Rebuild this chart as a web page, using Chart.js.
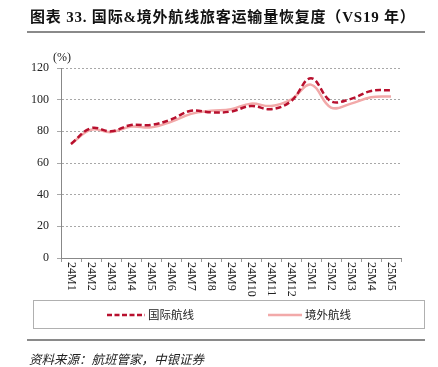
<!DOCTYPE html>
<html>
<head>
<meta charset="utf-8">
<script src="https://cdn.jsdelivr.net/npm/chart.js@4"></script>
<style>
  body { margin: 0; width: 438px; height: 367px; background: #fff; position: relative; overflow: hidden; }
  #chartBox { position: absolute; left: 0; top: 0; width: 438px; height: 367px; }
  .abs { position: absolute; white-space: nowrap; }
  #title { left: 30px; top: 8px; font: bold 15px "Liberation Serif", "Noto Sans CJK SC", serif; color: #111; line-height: 18px; letter-spacing: 0.8px; }
  .rule { position: absolute; left: 27px; width: 398px; height: 2px; background: #8a8a8a; }
  #unit { left: 53px; top: 50px; font: 12px "Liberation Serif", serif; color: #222; }
  #legend { position: absolute; left: 33px; top: 300px; width: 392px; height: 29px; box-sizing: border-box; border: 1px solid #b0b0b0; }
  .legText { position: absolute; top: 6px; font: 11.5px "Noto Sans CJK SC", sans-serif; color: #222; line-height: 15px; }
  #source { left: 29px; top: 349px; font: italic 12.5px "Noto Sans CJK SC", sans-serif; color: #222; }
</style>
</head>
<body>
<div id="chartBox"><canvas id="myChart" width="438" height="367"></canvas></div>
<div id="title" class="abs">图表 33. 国际&amp;境外航线旅客运输量恢复度（VS19 年）</div>
<div class="rule" style="top:31px"></div>
<div id="unit" class="abs">(%)</div>
<div id="legend">
  <svg style="position:absolute;left:73px;top:12px" width="38" height="4"><line x1="0" y1="2" x2="38" y2="2" stroke="#b8102e" stroke-width="2.5" stroke-dasharray="5,2.5"/></svg>
  <div class="legText" style="left:114px">国际航线</div>
  <svg style="position:absolute;left:234px;top:12px" width="34" height="4"><line x1="0" y1="2" x2="34" y2="2" stroke="#f2a9a9" stroke-width="2.5"/></svg>
  <div class="legText" style="left:271px">境外航线</div>
</div>
<div class="rule" style="top:339px"></div>
<div id="source" class="abs">资料来源：航班管家，中银证券</div>

<script>
const months = ['24M1', '24M2', '24M3', '24M4', '24M5', '24M6', '24M7', '24M8', '24M9', '24M10', '24M11', '24M12',
  '25M1', '25M2', '25M3', '25M4', '25M5'];
const intlRoutes = [72, 82, 80, 84, 84, 87.5, 93, 92, 92.5, 96, 94, 99, 113.5, 99, 100.5, 105.5, 106];
const overseasRoutes = [72, 81, 79.5, 83, 82.5, 86, 91, 93, 94, 97.5, 96, 100, 109.5, 95, 97.5, 101.5, 102];
const yTicks = [0, 20, 40, 60, 80, 100, 120];

// x labels read top-to-bottom, so draw them ourselves at the scale's positions
const xLabelPlugin = {
  id: 'xLabels',
  afterDraw(chart) {
    const xs = chart.scales.x;
    const ctx = chart.ctx;
    ctx.save();
    ctx.font = '12px "Liberation Serif", serif';
    ctx.fillStyle = '#222';
    ctx.textAlign = 'left';
    ctx.textBaseline = 'middle';
    months.forEach((m, i) => {
      ctx.save();
      ctx.translate(xs.getPixelForValue(i), xs.top + 4);
      ctx.rotate(Math.PI / 2);
      ctx.fillText(m, 0, 0);
      ctx.restore();
    });
    ctx.restore();
  }
};

const ctx = document.getElementById('myChart').getContext('2d');
new Chart(ctx, {
  type: 'line',
  data: {
    labels: months,
    datasets: [{
      label: '国际航线',
      data: intlRoutes,
      borderColor: '#b8102e',
      borderWidth: 2.5,
      borderDash: [6, 3],
      pointRadius: 0,
      tension: 0.4,
      fill: false
    }, {
      label: '境外航线',
      data: overseasRoutes,
      borderColor: '#f2a9a9',
      borderWidth: 2.5,
      pointRadius: 0,
      tension: 0.4,
      fill: false
    }]
  },
  options: {
    responsive: false,
    animation: false,
    layout: { padding: { left: 0, top: 68, right: 37, bottom: 0 } },
    plugins: {
      legend: { display: false },
      tooltip: { enabled: false }
    },
    scales: {
      x: {
        offset: true,
        grid: { display: true, drawOnChartArea: false, offset: true, tickLength: 4, color: '#999' },
        border: { color: '#888', width: 1 },
        ticks: { display: false },
        afterFit: s => { s.height = 109; }
      },
      y: {
        min: 0,
        max: 120,
        afterBuildTicks: s => { s.ticks = yTicks.map(v => ({ value: v })); },
        grid: { color: '#a8a8a8', tickLength: 4, lineWidth: 1 },
        border: { color: '#888', width: 1, dash: [2, 2] },
        ticks: {
          padding: 8,
          color: '#222',
          font: { family: '"Liberation Serif", serif', size: 12 }
        },
        afterFit: s => { s.width = 61; }
      }
    }
  },
  plugins: [xLabelPlugin]
});
</script>
</body>
</html>
